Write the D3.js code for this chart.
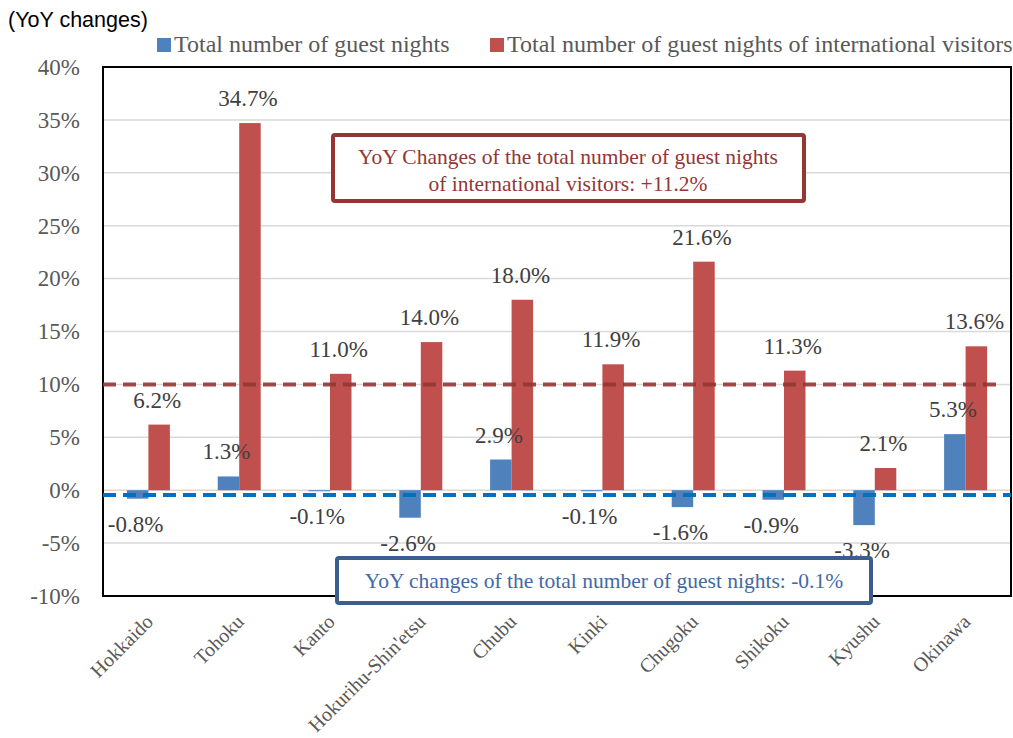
<!DOCTYPE html>
<html>
<head>
<meta charset="utf-8">
<script src="https://cdn.jsdelivr.net/npm/d3@7"></script>
<style>
  body { margin: 0; background: #fff; }
  svg { display: block; }
</style>
</head>
<body>
<svg id="chart" width="1013" height="738"></svg>
<script>
// data
var regions = ["Hokkaido", "Tohoku", "Kanto", "Hokurihu-Shin'etsu", "Chubu", "Kinki", "Chugoku", "Shikoku", "Kyushu", "Okinawa"];
var totalNights = [-0.8, 1.3, -0.1, -2.6, 2.9, -0.1, -1.6, -0.9, -3.3, 5.3];
var intlNights = [6.2, 34.7, 11.0, 14.0, 18.0, 11.9, 21.6, 11.3, 2.1, 13.6];
var seriesNames = ["Total number of guest nights", "Total number of guest nights of international visitors"];
var yTicks = [-10, -5, 0, 5, 10, 15, 20, 25, 30, 35, 40];
var intlRefLine = 10;     // where the dashed red line sits in the picture
var totalRefLine = -0.45; // where the dashed blue line sits

var blue = "#4F81BD", red = "#C0504D";
var serif = "'Liberation Serif', 'Times New Roman', serif";

var svg = d3.select("#chart");
var plotL = 103, plotR = 1011, plotT = 67, plotB = 596;

var y = d3.scaleLinear().domain([-10, 40]).range([plotB, plotT]);
var x = d3.scaleBand().domain(regions).range([plotL, plotR]);
var xs = d3.scaleBand().domain(["total", "intl"])
  .range([x.bandwidth() / 2 - 21.5, x.bandwidth() / 2 + 21.5]);

// gridlines
svg.append("g").selectAll("line")
  .data(yTicks)
  .enter().append("line")
  .attr("x1", plotL).attr("x2", plotR)
  .attr("y1", d => y(d)).attr("y2", d => y(d))
  .attr("stroke", "#D9D9D9").attr("stroke-width", 1.5);

// y axis labels
var yAxis = d3.axisLeft(y).tickValues(yTicks).tickSize(0).tickPadding(23)
  .tickFormat(d => d + "%");
var yg = svg.append("g").attr("transform", "translate(" + plotL + ",0)").call(yAxis);
yg.select(".domain").remove();
yg.selectAll("text")
  .style("font-family", serif).style("font-size", "23px").attr("fill", "#595959");

var rows = regions.map(function(r, i) {
  return { region: r, total: totalNights[i], intl: intlNights[i] };
});

// bars
var g = svg.append("g");
g.selectAll(".bt")
  .data(rows).enter().append("rect")
  .attr("x", d => x(d.region) + xs("total"))
  .attr("width", xs.bandwidth())
  .attr("y", d => y(Math.max(0, d.total)))
  .attr("height", d => Math.abs(y(d.total) - y(0)))
  .attr("fill", blue);
g.selectAll(".br")
  .data(rows).enter().append("rect")
  .attr("x", d => x(d.region) + xs("intl"))
  .attr("width", xs.bandwidth())
  .attr("y", d => y(Math.max(0, d.intl)))
  .attr("height", d => Math.abs(y(d.intl) - y(0)))
  .attr("fill", red);

// plot border
svg.append("rect")
  .attr("x", plotL).attr("y", plotT)
  .attr("width", plotR - plotL).attr("height", plotB - plotT)
  .attr("fill", "none").attr("stroke", "#000").attr("stroke-width", 2);

// dashed reference lines
svg.append("line")
  .attr("x1", plotL).attr("x2", 998)
  .attr("y1", y(intlRefLine)).attr("y2", y(intlRefLine))
  .attr("stroke", "#943634").attr("stroke-opacity", 0.9)
  .attr("stroke-width", 4).attr("stroke-dasharray", "13,7");
svg.append("line")
  .attr("x1", plotL).attr("x2", plotR)
  .attr("y1", y(totalRefLine)).attr("y2", y(totalRefLine))
  .attr("stroke", "#0070C0")
  .attr("stroke-width", 4).attr("stroke-dasharray", "13,7");

// data labels
function labelY(v) {
  return v >= 0 ? y(v) - 17 : y(v) + 33;
}
var lab = svg.append("g")
  .style("font-family", serif).style("font-size", "23px").attr("fill", "#404040")
  .attr("text-anchor", "middle");
lab.selectAll(".lt")
  .data(rows).enter().append("text")
  .attr("x", d => x(d.region) + xs("total") + xs.bandwidth() / 2 - 2)
  .attr("y", d => labelY(d.total))
  .text(d => d.total.toFixed(1) + "%");
lab.selectAll(".lr")
  .data(rows).enter().append("text")
  .attr("x", d => x(d.region) + xs("intl") + xs.bandwidth() / 2 - 2)
  .attr("y", d => labelY(d.intl))
  .text(d => d.intl.toFixed(1) + "%");

// x labels
svg.append("g").selectAll("text")
  .data(regions).enter().append("text")
  .attr("transform", d => "translate(" + (x(d) + x.bandwidth() / 2 + 6) + ",623) rotate(-45)")
  .attr("text-anchor", "end")
  .style("font-family", serif).style("font-size", "20px").attr("fill", "#595959")
  .text(d => d);

// annotation boxes
svg.append("rect")
  .attr("x", 333).attr("y", 135).attr("width", 471).attr("height", 66)
  .attr("fill", "#fff").attr("stroke", "#943634").attr("stroke-width", 4).attr("rx", 2);
svg.append("text")
  .attr("x", 568).attr("y", 164).attr("text-anchor", "middle")
  .style("font-family", serif).style("font-size", "21.5px").attr("fill", "#943634")
  .text("YoY Changes of the total number of guest nights");
svg.append("text")
  .attr("x", 568).attr("y", 191).attr("text-anchor", "middle")
  .style("font-family", serif).style("font-size", "21.5px").attr("fill", "#943634")
  .text("of international visitors: +11.2%");

svg.append("rect")
  .attr("x", 337).attr("y", 558).attr("width", 534).attr("height", 45)
  .attr("fill", "#fff").attr("stroke", "#3A5F8F").attr("stroke-width", 4).attr("rx", 2);
svg.append("text")
  .attr("x", 604).attr("y", 588).attr("text-anchor", "middle")
  .style("font-family", serif).style("font-size", "21.5px").attr("fill", "#3F6AA5")
  .text("YoY changes of the total number of guest nights: -0.1%");

// legend
var legendX = [157, 490];
var leg = svg.append("g");
leg.selectAll("rect")
  .data(seriesNames).enter().append("rect")
  .attr("x", (d, i) => legendX[i]).attr("y", 38)
  .attr("width", 14).attr("height", 14)
  .attr("fill", (d, i) => i === 0 ? blue : red);
leg.selectAll("text")
  .data(seriesNames).enter().append("text")
  .attr("x", (d, i) => legendX[i] + 17).attr("y", 52)
  .style("font-family", serif).style("font-size", "24px").attr("fill", "#595959")
  .text(d => d);

// unit label
svg.append("text")
  .attr("x", 8).attr("y", 27)
  .style("font-family", "'Liberation Sans', Arial, sans-serif").style("font-size", "21.5px")
  .attr("fill", "#000")
  .text("(YoY changes)");
</script>
</body>
</html>
